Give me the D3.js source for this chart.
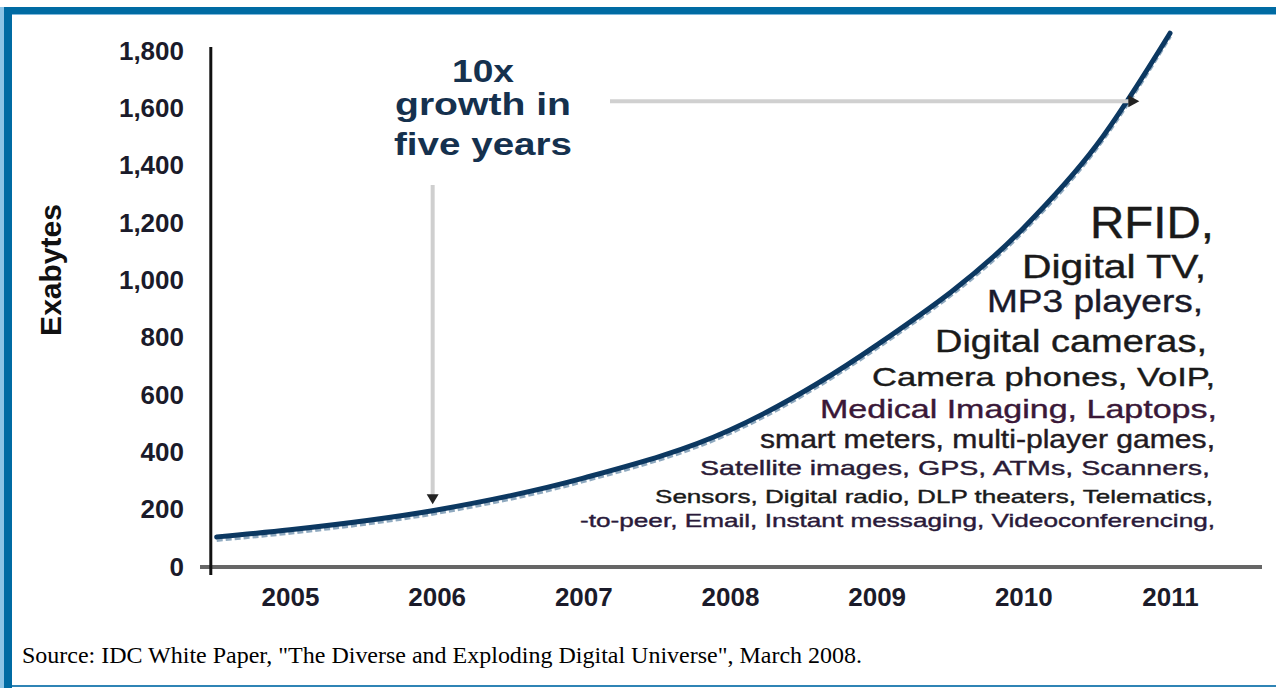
<!DOCTYPE html>
<html>
<head>
<meta charset="utf-8">
<script src="https://cdn.jsdelivr.net/npm/d3@7"></script>
<style>
  body { margin: 0; background: #fff; }
  text { font-family: "Liberation Sans", Arial, sans-serif; }
</style>
</head>
<body>
<div id="chart"></div>
<script>
// values (exabytes)
const years = [2004.5, 2005, 2006, 2007, 2008, 2009, 2010, 2010.5, 2011];
const exabytes = [105, 130, 199, 310, 478, 774, 1182, 1472, 1862];
const yearLabels = [2005, 2006, 2007, 2008, 2009, 2010, 2011];
const yTicks = [0, 200, 400, 600, 800, 1000, 1200, 1400, 1600, 1800];
const headline = ["10x", "growth in", "five years"];
const sources = [
  "RFID,",
  "Digital TV,",
  "MP3 players,",
  "Digital cameras,",
  "Camera phones, VoIP,",
  "Medical Imaging, Laptops,",
  "smart meters, multi-player games,",
  "Satellite images, GPS, ATMs, Scanners,",
  "Sensors, Digital radio, DLP theaters, Telematics,",
  "-to-peer, Email, Instant messaging, Videoconferencing,"
];
const sourceNote = 'Source: IDC White Paper, "The Diverse and Exploding Digital Universe", March 2008.';

const W = 1276, H = 688;
const svg = d3.select("#chart").append("svg")
    .attr("width", W)
    .attr("height", H);

// frame
svg.append("rect").attr("x", 0).attr("y", 7).attr("width", 5).attr("height", H - 7).attr("fill", "#8cc4e6");
svg.append("rect").attr("x", 4).attr("y", 7).attr("width", 8).attr("height", H - 7).attr("fill", "#006ba3");
svg.append("rect").attr("x", 4).attr("y", 7).attr("width", W - 4).attr("height", 7).attr("fill", "#006ba3");
svg.append("rect").attr("x", 12).attr("y", 14).attr("width", W - 12).attr("height", 1).attr("fill", "#7fb8dc");
svg.append("rect").attr("x", 12).attr("y", 685).attr("width", W - 12).attr("height", 2).attr("fill", "#2f84b5");

const x = d3.scaleLinear()
    .domain([2005, 2011])
    .range([290, 1170]);
const y = d3.scaleLinear()
    .domain([0, 1800])
    .range([567, 51]);

const x0 = x(2004.46);

// y tick labels
const yAxis = svg.append("g")
    .attr("transform", "translate(184,0)")
    .call(d3.axisLeft(y).tickValues(yTicks).tickFormat(d3.format(",")).tickSize(0).tickPadding(0));
yAxis.select(".domain").remove();
yAxis.selectAll("text")
    .style("font-size", "26px")
    .style("font-weight", "bold")
    .style("font-family", "'Liberation Sans', Arial, sans-serif")
    .attr("fill", "#1b1b2a");

// x tick labels
const xAxis = svg.append("g")
    .attr("transform", "translate(0,588)")
    .call(d3.axisBottom(x).tickValues(yearLabels).tickFormat(d3.format("d")).tickSize(0).tickPadding(0));
xAxis.select(".domain").remove();
xAxis.selectAll("text")
    .style("font-size", "26px")
    .style("font-weight", "bold")
    .style("font-family", "'Liberation Sans', Arial, sans-serif")
    .attr("fill", "#1b1b2a");

// axis lines
svg.append("line")
    .attr("x1", 200).attr("x2", 1262)
    .attr("y1", y(0)).attr("y2", y(0))
    .attr("stroke", "#666").attr("stroke-width", 4);
svg.append("line")
    .attr("x1", x0).attr("x2", x0)
    .attr("y1", y(1800) - 4).attr("y2", y(0) + 8)
    .attr("stroke", "#111").attr("stroke-width", 3);

// y label
svg.append("text")
    .attr("transform", "translate(61,270) rotate(-90)")
    .attr("text-anchor", "middle")
    .style("font-size", "30px")
    .style("font-weight", "bold")
    .attr("fill", "#111")
    .text("Exabytes");

// curve
const line = d3.line()
    .x(d => x(d[0]))
    .y(d => y(d[1]))
    .curve(d3.curveMonotoneX);
const pts = d3.zip(years, exabytes);

svg.append("path")
    .datum(pts)
    .attr("d", line)
    .attr("transform", "translate(0,3)")
    .attr("fill", "none")
    .attr("stroke", "#8fa9bf")
    .attr("stroke-width", 4)
    .attr("stroke-dasharray", "6,3");
svg.append("path")
    .datum(pts)
    .attr("d", line)
    .attr("fill", "none")
    .attr("stroke", "#0c3861")
    .attr("stroke-width", 5)
    .attr("stroke-linecap", "round");

// arrows
const vx = x(2006) - 4;
svg.append("line")
    .attr("x1", vx).attr("x2", vx)
    .attr("y1", 185).attr("y2", y(240))
    .attr("stroke", "#cfcfcf").attr("stroke-width", 4);
svg.append("path")
    .attr("d", `M${vx - 6},${y(240) - 4} L${vx + 6},${y(240) - 4} L${vx},${y(240) + 6} Z`)
    .attr("fill", "#222");

const hy = y(1625);
const hx = x(2010.75);
svg.append("line")
    .attr("x1", 610).attr("x2", hx)
    .attr("y1", hy).attr("y2", hy)
    .attr("stroke", "#d0d0d0").attr("stroke-width", 4);
svg.append("path")
    .attr("d", `M${hx - 5},${hy - 6} L${hx + 6},${hy} L${hx - 5},${hy + 6} Z`)
    .attr("fill", "#222");

// headline
const hl = svg.append("g").attr("fill", "#15314e")
    .style("font-weight", "bold")
    .attr("text-anchor", "middle");
const hlBase = [82, 115, 155];
const hlWidth = [62, 176, 178];
headline.forEach((t, i) => {
  hl.append("text")
    .attr("x", 483)
    .attr("y", hlBase[i])
    .style("font-size", "32px")
    .attr("textLength", hlWidth[i])
    .attr("lengthAdjust", "spacingAndGlyphs")
    .text(t);
});

// list of sources
const srcSize = [44, 33, 31, 31, 26, 26, 25, 21, 19, 19];
const srcBase = [238, 278, 312, 352, 386, 418, 448, 475, 503, 527];
const srcLeft = [1090, 1022, 987, 935, 872, 820, 760, 700, 655, 580];
const srcRight = [1214, 1206, 1203, 1207, 1215, 1217, 1215, 1210, 1213, 1215];
const srcColor = ["#1a1a1a", "#1a1a1a", "#1a1a2a", "#1a1a1a", "#1a1a1a", "#3a1838", "#221a22", "#2a1a35", "#1a1a1a", "#2a1a3a"];
const lst = svg.append("g").attr("text-anchor", "end");
sources.forEach((t, i) => {
  lst.append("text")
    .attr("x", srcRight[i])
    .attr("y", srcBase[i])
    .style("font-size", srcSize[i] + "px")
    .attr("fill", srcColor[i])
    .attr("stroke", srcColor[i])
    .attr("stroke-width", 0.4)
    .attr("textLength", srcRight[i] - srcLeft[i])
    .attr("lengthAdjust", "spacingAndGlyphs")
    .text(t);
});

// source note
svg.append("text")
    .attr("x", 22)
    .attr("y", 663)
    .style("font-family", "'Liberation Serif', 'Times New Roman', serif")
    .style("font-size", "23px")
    .attr("fill", "#000")
    .attr("textLength", 840)
    .attr("lengthAdjust", "spacingAndGlyphs")
    .text(sourceNote);
</script>
</body>
</html>
